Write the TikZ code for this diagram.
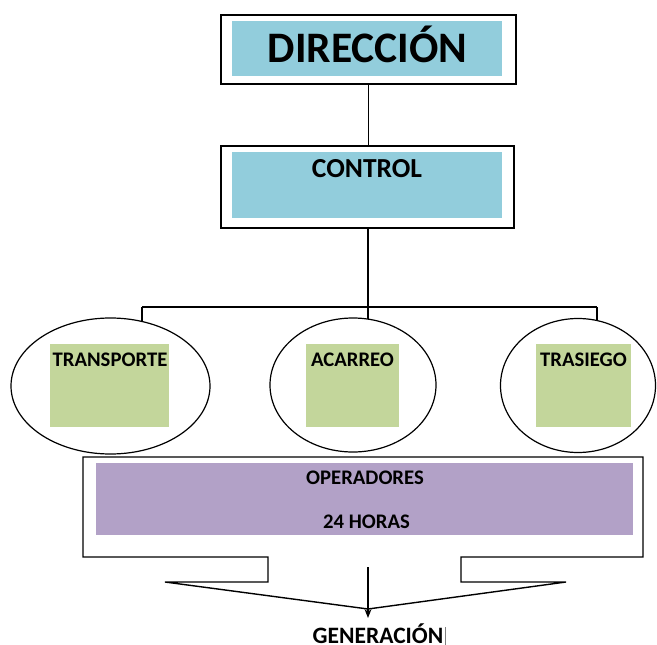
\documentclass[tikz,border=0pt]{standalone}
\usepackage{fontspec}
\setmainfont{Carlito}
\usetikzlibrary{arrows.meta,shapes.geometric}
\definecolor{blueF}{HTML}{92CDDC}
\definecolor{greenF}{HTML}{C3D69B}
\definecolor{purpleF}{HTML}{B2A1C7}
\tikzset{
  outerbox/.style={draw=black, line width=1.4pt, fill=white, rectangle, inner sep=0pt},
  fillbox/.style={rectangle, inner sep=0pt, draw=none},
  oval/.style={draw=black, line width=1.2pt, fill=white, ellipse, inner sep=0pt},
  txt/.style={anchor=base, inner sep=0pt, text depth=0pt, font=\bfseries},
  conn/.style={draw=black, line width=1.2pt},
}
\begin{document}
\begin{tikzpicture}[x=1pt,y=-1pt]
\useasboundingbox (0,0) rectangle (657,645);
% Direccion
\node[outerbox, minimum width=295pt, minimum height=69pt] (dirOut) at (368.5,49.5) {};
\node[fillbox, fill=blueF, minimum width=270pt, minimum height=55pt] (dirIn) at (367,48.5) {};
\node[txt] (dirT) at (367.5,63) {\fontsize{43.5}{43.5}\selectfont DIRECCIÓN};
% Control
\node[outerbox, minimum width=293pt, minimum height=82pt] (ctlOut) at (367.5,187) {};
\node[fillbox, fill=blueF, minimum width=270pt, minimum height=66pt] (ctlIn) at (367,185) {};
\node[txt] (ctlT) at (367,177) {\fontsize{27.5}{27.5}\selectfont CONTROL};
\draw[conn] (dirOut.south) -- (dirOut.south |- ctlOut.north);
% bus
\coordinate (bus) at (368,307);
\coordinate (busL) at (142,307);
\coordinate (busR) at (597,307);
\coordinate (dropL) at (142,322);
\coordinate (dropM) at (368,319);
\coordinate (dropR) at (597,320);
\draw[conn] (ctlOut.south -| bus) -- (bus);
\draw[conn] (busL) -- (busR);
\draw[conn] (busL) -- (dropL);
\draw[conn] (bus) -- (dropM);
\draw[conn] (busR) -- (dropR);
% ellipses
\node[oval, minimum width=199pt, minimum height=136pt] (ellL) at (110.5,386) {};
\node[oval, minimum width=166pt, minimum height=134pt] (ellM) at (353,385) {};
\node[oval, minimum width=155pt, minimum height=134pt] (ellR) at (578,385.5) {};
\node[fillbox, fill=greenF, minimum width=119pt, minimum height=83pt] (gL) at (109.5,385.5) {};
\node[fillbox, fill=greenF, minimum width=93pt, minimum height=83pt] (gM) at (352.5,385.5) {};
\node[fillbox, fill=greenF, minimum width=95pt, minimum height=83pt] (gR) at (583.5,385.5) {};
\node[txt] (tL) at (110,366) {\fontsize{20.7}{20.7}\selectfont TRANSPORTE};
\node[txt] (tM) at (352.5,366) {\fontsize{20.7}{20.7}\selectfont ACARREO};
\node[txt] (tR) at (583.5,366) {\fontsize{20.7}{20.7}\selectfont TRASIEGO};
% Operadores callout
\draw[line width=1.4pt, fill=white, line join=miter]
  (83,457) -- (643,457) -- (643,557) -- (461,557) -- (461,582) -- (566,582)
  -- (368,609) -- (165,582) -- (268,582) -- (268,557) -- (83,557) -- cycle;
\node[fillbox, fill=purpleF, minimum width=537pt, minimum height=72pt] (opIn) at (364.5,499) {};
\node[txt] (opT) at (365,484) {\fontsize{20.7}{20.7}\selectfont OPERADORES};
\node[txt] (hrT) at (366.5,528) {\fontsize{20.7}{20.7}\selectfont 24 HORAS};
% arrow
\coordinate (arrTop) at (368,567);
\coordinate (arrEnd) at (368,618);
\draw[conn, -{Stealth[length=9pt, width=7pt]}] (arrTop) -- (arrEnd);
\node[txt] (gen) at (378,643) {\fontsize{23.5}{23.5}\selectfont GENERACIÓN};
\coordinate (curT) at (445.5,627);
\coordinate (curB) at (445.5,645);
\draw[gray, line width=0.6pt] (curT) -- (curB);
\end{tikzpicture}
\end{document}
